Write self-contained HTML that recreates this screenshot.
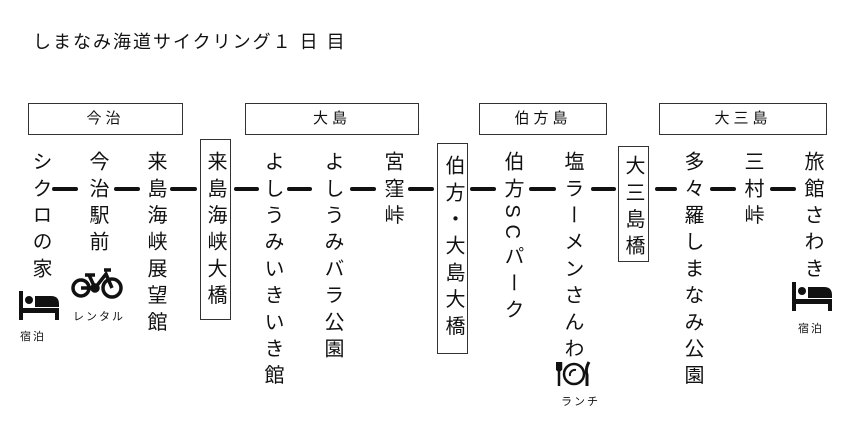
<!DOCTYPE html>
<html><head><meta charset="utf-8"><style>
body{margin:0;width:842px;height:445px;background:#fff;position:relative;overflow:hidden;font-family:"Liberation Sans","Noto Sans CJK JP",sans-serif;color:#111}
.t{position:absolute;left:33px;top:28px;font-size:18px;letter-spacing:2px;white-space:nowrap}
.b{position:absolute;border:1.5px solid #333;box-sizing:border-box;text-align:center;font-size:15px;letter-spacing:4px}
.c{position:absolute;top:151px;writing-mode:vertical-rl;font-size:20px;letter-spacing:6.7px;line-height:22px;width:22px;white-space:nowrap}
.l{position:absolute;top:187px;height:4px;background:#111;border-radius:2px}
.s{position:absolute;font-size:11px;letter-spacing:2px;white-space:nowrap}
</style></head><body>
<div class="t">しまなみ海道サイクリング１ 日 目</div>

<div class="b" style="left:28px;top:103px;width:155px;height:32px;line-height:29px">今治</div>
<div class="b" style="left:245px;top:103px;width:174px;height:32px;line-height:29px">大島</div>
<div class="b" style="left:479px;top:103px;width:128px;height:32px;line-height:29px">伯方島</div>
<div class="b" style="left:659px;top:103px;width:168px;height:32px;line-height:29px">大三島</div>

<div class="b" style="left:200px;top:139px;width:31px;height:181px"></div>
<div class="b" style="left:437px;top:143px;width:31px;height:211px"></div>
<div class="b" style="left:618px;top:146px;width:31px;height:116px"></div>

<div class="c" style="left:29px">シクロの家</div>
<div class="c" style="left:86px">今治駅前</div>
<div class="c" style="left:144px">来島海峡展望館</div>
<div class="c" style="left:204px">来島海峡大橋</div>
<div class="c" style="left:261px">よしうみいきいき館</div>
<div class="c" style="left:321px">よしうみバラ公園</div>
<div class="c" style="left:381px">宮窪峠</div>
<div class="c" style="left:442px;top:155px">伯方・大島大橋</div>
<div class="c" style="left:501px">伯方SCパーク</div>
<div class="c" style="left:561px">塩ラーメンさんわ</div>
<div class="c" style="left:622px;top:155px">大三島橋</div>
<div class="c" style="left:681px">多々羅しまなみ公園</div>
<div class="c" style="left:741px">三村峠</div>
<div class="c" style="left:801px">旅館さわき</div>

<div class="l" style="left:52px;width:26px"></div>
<div class="l" style="left:114px;width:26px"></div>
<div class="l" style="left:170px;width:27px"></div>
<div class="l" style="left:234px;width:25px"></div>
<div class="l" style="left:287px;width:25px"></div>
<div class="l" style="left:350px;width:26px"></div>
<div class="l" style="left:408px;width:26px"></div>
<div class="l" style="left:470px;width:26px"></div>
<div class="l" style="left:529px;width:27px"></div>
<div class="l" style="left:591px;width:25px"></div>
<div class="l" style="left:655px;width:22px"></div>
<div class="l" style="left:710px;width:26px"></div>
<div class="l" style="left:770px;width:26px"></div>

<!-- beds -->
<svg style="position:absolute;left:19px;top:291px" width="42" height="30"><rect x="0" y="0" width="4" height="29" fill="#111"/><circle cx="10" cy="9" r="4" fill="#111"/><path d="M16 5 H32 Q40 5 40 13 V16 H16Z" fill="#111"/><rect x="0" y="17" width="40" height="5" fill="#111"/><rect x="36" y="17" width="4" height="12" fill="#111"/></svg>
<div class="s" style="left:20px;top:328px">宿泊</div>
<svg style="position:absolute;left:792px;top:282px" width="42" height="30"><rect x="0" y="0" width="4" height="29" fill="#111"/><circle cx="10" cy="9" r="4" fill="#111"/><path d="M16 5 H32 Q40 5 40 13 V16 H16Z" fill="#111"/><rect x="0" y="17" width="40" height="5" fill="#111"/><rect x="36" y="17" width="4" height="12" fill="#111"/></svg>
<div class="s" style="left:798px;top:320px">宿泊</div>

<!-- bicycle -->
<svg style="position:absolute;left:71px;top:266px" width="54" height="34" fill="none" stroke="#111" stroke-width="3.5"><circle cx="10" cy="22" r="8"/><circle cx="41" cy="22" r="9"/><path d="M10 22 H24 L35 8 L41 22 M24 22 L18 9 M14 9 H24 M33 4 H40"/><circle cx="24" cy="22" r="3" fill="#111"/></svg>
<div class="s" style="left:73px;top:308px">レンタル</div>

<!-- lunch -->
<svg style="position:absolute;left:556px;top:361px" width="36" height="26" fill="none" stroke="#111" stroke-width="2.5"><path d="M3 1 V25 M1 1 V8 Q3 11 5 8 V1"/><circle cx="18" cy="13" r="10"/><path d="M14 15 A5 5 0 0 1 20 9" stroke-width="2"/><path d="M33 1 Q29 8 31 14 V25" stroke-width="3"/></svg>
<div class="s" style="left:561px;top:393px">ランチ</div>
</body></html>
